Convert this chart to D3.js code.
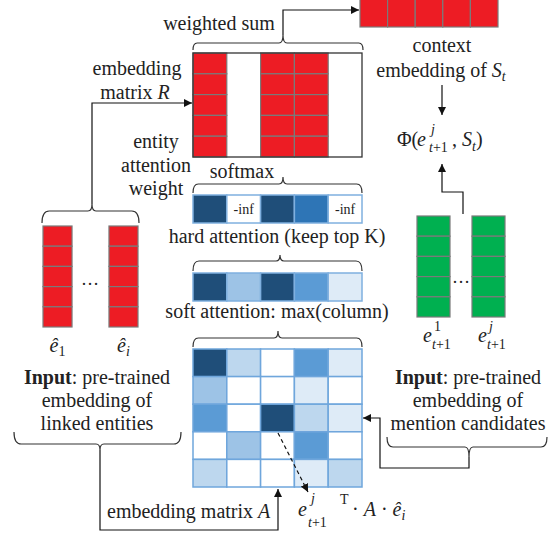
<!DOCTYPE html>
<html>
<head>
<meta charset="utf-8">
<script src="https://cdn.jsdelivr.net/npm/d3@7"></script>
<style>
  body { margin: 0; background: #fff; }
</style>
</head>
<body>
<script>
var w = 559;
var h = 535;
var serif = '"Liberation Serif", "Times New Roman", Times, serif';

// colour levels of the blue cells (0 = white ... 6 = darkest)
var blues = ['#ffffff', '#deebf7', '#bdd7ee', '#9dc3e6', '#5b9bd5', '#2e75b6', '#1f4e79'];

// embedding matrix A, row by row
var matrixA = [
	[6, 2, 0, 4, 1],
	[3, 0, 0, 1, 0],
	[4, 0, 6, 2, 1],
	[0, 3, 0, 4, 0],
	[2, 0, 0, 1, 2]
];
var softAttention = [6, 3, 6, 4, 1];
var hardAttention = [6, null, 6, 5, null]; // null -> -inf
var entityLabels = ['1', 'i'];
var candidateLabels = ['1', 'j'];
var embedDims = [0, 1, 2, 3, 4];
var cols = [0, 1, 2, 3, 4];

var color = d3.scaleOrdinal().domain(d3.range(blues.length)).range(blues);

var svg = d3.select('body')
			.append('svg')
			.attr('width', w)
			.attr('height', h)
			.attr('font-family', serif);

var defs = svg.append('defs');
defs.append('marker')
	.attr('id', 'arr')
	.attr('viewBox', '0 0 10 10')
	.attr('refX', 10).attr('refY', 5)
	.attr('markerWidth', 8).attr('markerHeight', 8)
	.attr('markerUnits', 'userSpaceOnUse')
	.attr('orient', 'auto')
	.append('path').attr('d', 'M0,0L10,5L0,10z').attr('fill', '#111');

// scales
var xMat = d3.scaleBand().domain(cols).range([193, 362]);
var yA = d3.scaleBand().domain(d3.range(matrixA.length)).range([349, 487]);
var yR = d3.scaleBand().domain(embedDims).range([53, 157]);
var xCtx = d3.scaleBand().domain(embedDims).range([360, 498]);
var xEnt = d3.scaleBand().domain(entityLabels).range([43, 138]).paddingInner(0.56);
var yEnt = d3.scaleBand().domain(embedDims).range([226, 327]);
var xCand = d3.scaleBand().domain(candidateLabels).range([417, 505]).paddingInner(0.4);
var yCand = d3.scaleBand().domain(embedDims).range([216, 317]);

// ---- helpers
function brace(x0, x1, yEnd, yBase, xt, yTip) {
	var r = Math.abs(yBase - yEnd) * 0.6;
	var p = d3.path();
	p.moveTo(x0, yEnd);
	p.quadraticCurveTo(x0, yBase, x0 + r, yBase);
	p.lineTo(xt - 4, yBase);
	p.quadraticCurveTo(xt, yBase, xt, yTip);
	p.quadraticCurveTo(xt, yBase, xt + 4, yBase);
	p.lineTo(x1 - r, yBase);
	p.quadraticCurveTo(x1, yBase, x1, yEnd);
	svg.append('path').attr('d', p.toString())
		.attr('fill', 'none').attr('stroke', '#333').attr('stroke-width', 1.2);
}

function arrow(pts, dashed) {
	svg.append('path')
		.attr('d', d3.line()(pts))
		.attr('fill', 'none')
		.attr('stroke', '#111')
		.attr('stroke-width', 1.2)
		.attr('stroke-dasharray', dashed ? '4,3' : null)
		.attr('marker-end', 'url(#arr)');
}

function label(x, y, parts, anchor, size) {
	var t = svg.append('text')
		.attr('x', x).attr('y', y)
		.attr('text-anchor', anchor || 'middle')
		.attr('fill', '#222')
		.style('font-family', serif)
		.style('font-size', (size || 20) + 'px');
	parts.forEach(function(p) {
		if (typeof p === 'string') { t.append('tspan').text(p); return; }
		var s = t.append('tspan').text(p.t);
		if (p.it) s.style('font-style', 'italic');
		if (p.b) s.style('font-weight', 'bold');
		if (p.size) s.style('font-size', p.size + 'px');
		if (p.dy) s.attr('dy', p.dy);
	});
	return t;
}

// ---- context embedding (top right)
svg.append('g').selectAll('rect')
	.data(embedDims).enter().append('rect')
	.attr('x', function(d) { return xCtx(d); })
	.attr('y', -4)
	.attr('width', xCtx.bandwidth())
	.attr('height', 31)
	.attr('fill', '#ed1c24')
	.attr('stroke', '#7a7a7a').attr('stroke-width', 1.2);

// ---- embedding matrix R (columns kept by hard attention are red)
var gR = svg.append('g');
cols.forEach(function(c) {
	if (hardAttention[c] === null) return;
	embedDims.forEach(function(r) {
		gR.append('rect')
			.attr('x', xMat(c)).attr('y', yR(r))
			.attr('width', xMat.bandwidth()).attr('height', yR.bandwidth())
			.attr('fill', '#ed1c24')
			.attr('stroke', '#7a7a7a').attr('stroke-width', 1.2);
	});
});
gR.append('rect')
	.attr('x', xMat.range()[0]).attr('y', yR.range()[0])
	.attr('width', xMat.range()[1] - xMat.range()[0])
	.attr('height', yR.range()[1] - yR.range()[0])
	.attr('fill', 'none').attr('stroke', '#333').attr('stroke-width', 1.3);

// ---- hard attention row
svg.append('g').selectAll('rect').data(hardAttention).enter().append('rect')
	.attr('x', function(d, i) { return xMat(i); })
	.attr('y', 195)
	.attr('width', xMat.bandwidth()).attr('height', 28)
	.attr('fill', function(d) { return d === null ? '#fff' : color(d); })
	.attr('stroke', '#7fb0df').attr('stroke-width', 1.5);
hardAttention.forEach(function(d, i) {
	if (d === null) label(xMat(i) + xMat.bandwidth() / 2, 214, ['-inf'], 'middle', 14);
});

// ---- soft attention row
svg.append('g').selectAll('rect').data(softAttention).enter().append('rect')
	.attr('x', function(d, i) { return xMat(i); })
	.attr('y', 273)
	.attr('width', xMat.bandwidth()).attr('height', 28)
	.attr('fill', function(d) { return color(d); })
	.attr('stroke', '#7fb0df').attr('stroke-width', 1.5);

// ---- matrix A
var gA = svg.append('g');
matrixA.forEach(function(row, r) {
	row.forEach(function(v, c) {
		gA.append('rect')
			.attr('x', xMat(c)).attr('y', yA(r))
			.attr('width', xMat.bandwidth()).attr('height', yA.bandwidth())
			.attr('fill', color(v))
			.attr('stroke', '#6fa6dc').attr('stroke-width', 1.5);
	});
});

// ---- entity vectors (red) and candidate vectors (green)
entityLabels.forEach(function(e) {
	svg.append('g').selectAll('rect').data(embedDims).enter().append('rect')
		.attr('x', xEnt(e)).attr('y', function(d) { return yEnt(d); })
		.attr('width', xEnt.bandwidth()).attr('height', yEnt.bandwidth())
		.attr('fill', '#ed1c24').attr('stroke', '#7a7a7a').attr('stroke-width', 1.2);
	label(xEnt(e) + xEnt.bandwidth() / 2, 352, [{t: 'ê', it: true}, {t: e, it: e !== '1', size: 14, dy: 4}]);
});
label(90, 285, ['…'], 'middle', 18);

candidateLabels.forEach(function(e) {
	svg.append('g').selectAll('rect').data(embedDims).enter().append('rect')
		.attr('x', xCand(e)).attr('y', function(d) { return yCand(d); })
		.attr('width', xCand.bandwidth()).attr('height', yCand.bandwidth())
		.attr('fill', '#00b050').attr('stroke', '#7a7a7a').attr('stroke-width', 1.2);
	var x0 = xCand(e) + 6;
	label(x0, 342, [{t: 'e', it: true}], 'start');
	label(x0 + 11, 331, [{t: e, it: e !== '1'}], 'start', 14);
	label(x0 + 9, 349, [{t: 't', it: true}, '+1'], 'start', 14);
});
label(461, 283, ['…'], 'middle', 18);

// ---- braces and arrows
brace(193, 363, 50, 43, 283, 35);
arrow([[283, 35], [283, 10], [359, 10]]);
brace(193, 362, 193, 184, 283, 177);
brace(193, 362, 271, 261, 280, 255);
brace(193, 362, 347, 338, 278, 331);
brace(42, 139, 223, 211, 92, 204);
arrow([[92, 204], [92, 103], [192, 103]]);
brace(14, 181, 432, 444, 100, 450);
arrow([[100, 450], [100, 530], [278, 530], [278, 489]]);
brace(387, 547, 437, 447, 469, 457);
arrow([[469, 457], [469, 468], [380, 468], [380, 418], [363, 418]]);
arrow([[442, 85], [442, 115]]);
arrow([[463, 214], [463, 192], [442, 192], [442, 164]]);
arrow([[278, 433], [308, 492]], true);

// ---- text
label(219, 30, ['weighted sum']);
label(137, 75, ['embedding']);
label(135, 99, ['matrix ', {t: 'R', it: true}]);
label(156, 148, ['entity']);
label(156, 172, ['attention']);
label(156, 195, ['weight']);
label(242, 178, ['softmax']);
label(277, 243, ['hard attention (keep top K)']);
label(277, 318, ['soft attention: max(column)']);
label(442, 52, ['context']);
label(441, 77, ['embedding of ', {t: 'S', it: true}, {t: 't', it: true, size: 14, dy: 4}]);

// Φ(e^j_{t+1}, S_t)
label(397, 146, ['Φ('], 'start');
label(417, 146, [{t: 'e', it: true}], 'start');
label(431, 134, [{t: 'j', it: true}], 'start', 14);
label(429, 152, [{t: 't', it: true}, '+1'], 'start', 14);
label(452, 146, [', ', {t: 'S', it: true}, {t: 't', it: true, size: 14, dy: 5}, {t: ')', dy: -5}], 'start');

label(97, 384, [{t: 'Input', b: true}, ': pre-trained']);
label(97, 407, ['embedding of']);
label(97, 430, ['linked entities']);
label(468, 384, [{t: 'Input', b: true}, ':  pre-trained']);
label(468, 407, ['embedding of']);
label(468, 430, ['mention candidates']);

label(107, 518, ['embedding matrix ', {t: 'A', it: true}], 'start');

// e^j_{t+1}^T · A · ê_i
label(298, 516, [{t: 'e', it: true}], 'start');
label(311, 503, [{t: 'j', it: true}], 'start', 14);
label(308, 527, [{t: 't', it: true}, '+1'], 'start', 14);
label(340, 504, ['T'], 'start', 14);
label(352, 516, ['· ', {t: 'A', it: true}, ' · ', {t: 'ê', it: true}, {t: 'i', it: true, size: 14, dy: 4}], 'start');
</script>
</body>
</html>
